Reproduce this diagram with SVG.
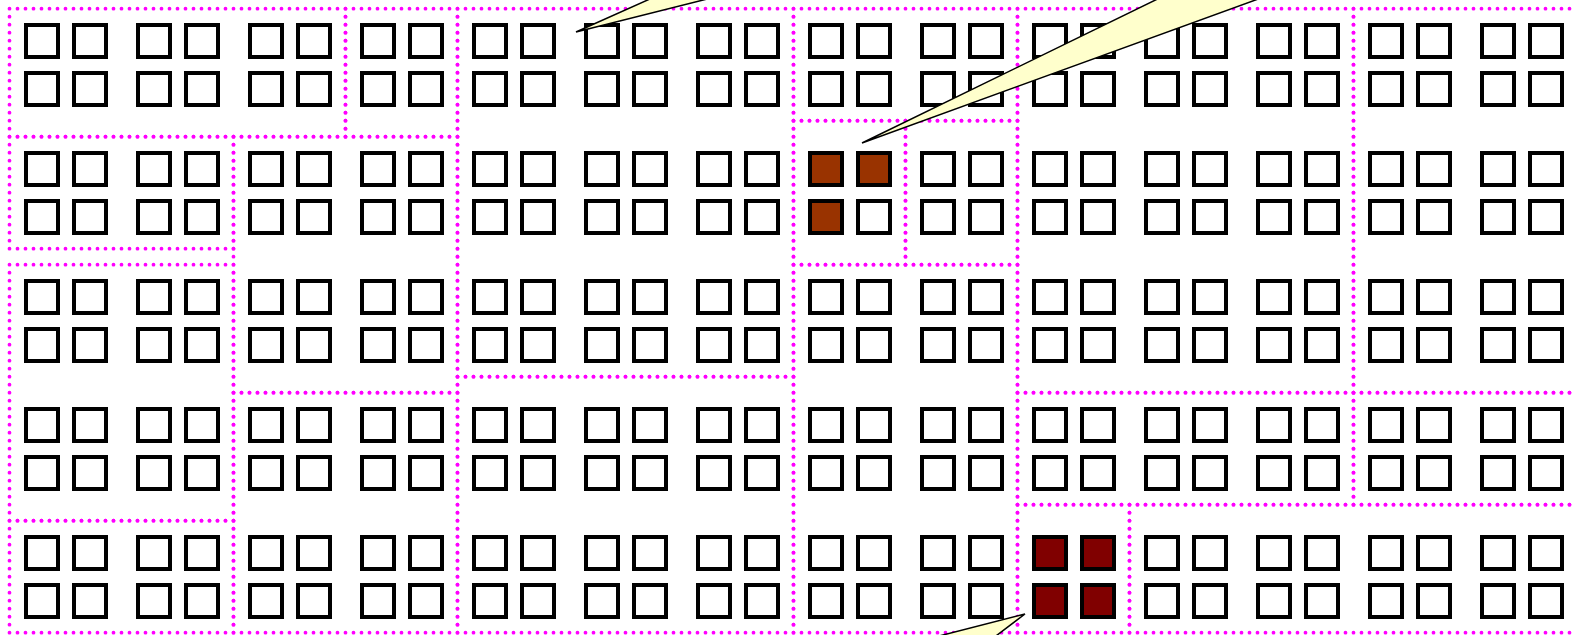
<svg xmlns="http://www.w3.org/2000/svg" xmlns:xlink="http://www.w3.org/1999/xlink" width="1572" height="635" viewBox="0 0 1572 635">
<style>
.sq{fill:#ffffff;stroke:#000000;stroke-width:4}
.br{fill:#993300;stroke:#000000;stroke-width:4}
.dr{fill:#800000;stroke:#000000;stroke-width:4}
.reg{fill:none;stroke:#ff00ff;stroke-width:3.8;stroke-dasharray:0 8;stroke-linecap:round}
.call{fill:#ffffcc;stroke:#000000;stroke-width:1.5;stroke-linejoin:miter}
</style>
<defs>
<g id="quad">
<rect class="sq" x="26" y="25" width="32" height="32"/>
<rect class="sq" x="74" y="25" width="32" height="32"/>
<rect class="sq" x="26" y="73" width="32" height="32"/>
<rect class="sq" x="74" y="73" width="32" height="32"/>
</g>
</defs>
<rect width="1572" height="635" fill="#ffffff"/>
<g id="cells">
<g id="row0">
<use href="#quad" transform="translate(0,0)"/><use href="#quad" transform="translate(112,0)"/><use href="#quad" transform="translate(224,0)"/><use href="#quad" transform="translate(336,0)"/><use href="#quad" transform="translate(448,0)"/><use href="#quad" transform="translate(560,0)"/><use href="#quad" transform="translate(672,0)"/><use href="#quad" transform="translate(784,0)"/><use href="#quad" transform="translate(896,0)"/><use href="#quad" transform="translate(1008,0)"/><use href="#quad" transform="translate(1120,0)"/><use href="#quad" transform="translate(1232,0)"/><use href="#quad" transform="translate(1344,0)"/><use href="#quad" transform="translate(1456,0)"/>
</g>
<g id="row1">
<use href="#quad" transform="translate(0,128)"/><use href="#quad" transform="translate(112,128)"/><use href="#quad" transform="translate(224,128)"/><use href="#quad" transform="translate(336,128)"/><use href="#quad" transform="translate(448,128)"/><use href="#quad" transform="translate(560,128)"/><use href="#quad" transform="translate(672,128)"/>
<g id="block-brown" transform="translate(784,128)">
<rect class="br" x="26" y="25" width="32" height="32"/>
<rect class="br" x="74" y="25" width="32" height="32"/>
<rect class="br" x="26" y="73" width="32" height="32"/>
<rect class="sq" x="74" y="73" width="32" height="32"/>
</g>
<use href="#quad" transform="translate(896,128)"/><use href="#quad" transform="translate(1008,128)"/><use href="#quad" transform="translate(1120,128)"/><use href="#quad" transform="translate(1232,128)"/><use href="#quad" transform="translate(1344,128)"/><use href="#quad" transform="translate(1456,128)"/>
</g>
<g id="row2">
<use href="#quad" transform="translate(0,256)"/><use href="#quad" transform="translate(112,256)"/><use href="#quad" transform="translate(224,256)"/><use href="#quad" transform="translate(336,256)"/><use href="#quad" transform="translate(448,256)"/><use href="#quad" transform="translate(560,256)"/><use href="#quad" transform="translate(672,256)"/><use href="#quad" transform="translate(784,256)"/><use href="#quad" transform="translate(896,256)"/><use href="#quad" transform="translate(1008,256)"/><use href="#quad" transform="translate(1120,256)"/><use href="#quad" transform="translate(1232,256)"/><use href="#quad" transform="translate(1344,256)"/><use href="#quad" transform="translate(1456,256)"/>
</g>
<g id="row3">
<use href="#quad" transform="translate(0,384)"/><use href="#quad" transform="translate(112,384)"/><use href="#quad" transform="translate(224,384)"/><use href="#quad" transform="translate(336,384)"/><use href="#quad" transform="translate(448,384)"/><use href="#quad" transform="translate(560,384)"/><use href="#quad" transform="translate(672,384)"/><use href="#quad" transform="translate(784,384)"/><use href="#quad" transform="translate(896,384)"/><use href="#quad" transform="translate(1008,384)"/><use href="#quad" transform="translate(1120,384)"/><use href="#quad" transform="translate(1232,384)"/><use href="#quad" transform="translate(1344,384)"/><use href="#quad" transform="translate(1456,384)"/>
</g>
<g id="row4">
<use href="#quad" transform="translate(0,512)"/><use href="#quad" transform="translate(112,512)"/><use href="#quad" transform="translate(224,512)"/><use href="#quad" transform="translate(336,512)"/><use href="#quad" transform="translate(448,512)"/><use href="#quad" transform="translate(560,512)"/><use href="#quad" transform="translate(672,512)"/><use href="#quad" transform="translate(784,512)"/><use href="#quad" transform="translate(896,512)"/>
<g id="block-darkred" transform="translate(1008,512)">
<rect class="dr" x="26" y="25" width="32" height="32"/>
<rect class="dr" x="74" y="25" width="32" height="32"/>
<rect class="dr" x="26" y="73" width="32" height="32"/>
<rect class="dr" x="74" y="73" width="32" height="32"/>
</g>
<use href="#quad" transform="translate(1120,512)"/><use href="#quad" transform="translate(1232,512)"/><use href="#quad" transform="translate(1344,512)"/><use href="#quad" transform="translate(1456,512)"/>
</g>
</g>
<g id="regions">
<rect id="rA" class="reg" x="9.5" y="8.7" width="336" height="128"/>
<rect id="rB" class="reg" x="345.5" y="8.7" width="112" height="128"/>
<rect id="rC" class="reg" x="9.5" y="136.7" width="224" height="112"/>
<rect id="rD" class="reg" x="9.5" y="264.7" width="224" height="256"/>
<rect id="rE" class="reg" x="9.5" y="520.7" width="224" height="112"/>
<rect id="rF" class="reg" x="233.5" y="136.7" width="224" height="256"/>
<rect id="rG" class="reg" x="233.5" y="392.7" width="224" height="240"/>
<rect id="rH" class="reg" x="457.5" y="8.7" width="336" height="368"/>
<rect id="rI" class="reg" x="457.5" y="376.7" width="336" height="256"/>
<rect id="rJ" class="reg" x="793.5" y="8.7" width="224" height="112"/>
<rect id="rK" class="reg" x="793.5" y="120.7" width="112" height="144"/>
<rect id="rL" class="reg" x="905.5" y="120.7" width="112" height="144"/>
<rect id="rM" class="reg" x="793.5" y="264.7" width="224" height="368"/>
<rect id="rN" class="reg" x="1017.5" y="8.7" width="336" height="384"/>
<rect id="rO" class="reg" x="1353.5" y="8.7" width="224" height="384"/>
<rect id="rP" class="reg" x="1017.5" y="392.7" width="336" height="112"/>
<rect id="rQ" class="reg" x="1353.5" y="392.7" width="224" height="112"/>
<rect id="rR" class="reg" x="1017.5" y="504.7" width="112" height="128"/>
<rect id="rS" class="reg" x="1129.5" y="504.7" width="448" height="128"/>
</g>
<g id="callouts">
<polygon id="callout1" class="call" points="576,32 670,-10 743,-10"/>
<polygon id="callout2" class="call" points="862,143 1176,-10 1283,-10"/>
<polygon id="callout3" class="call" points="1025,614 904,645 984,645"/>
</g>
</svg>
